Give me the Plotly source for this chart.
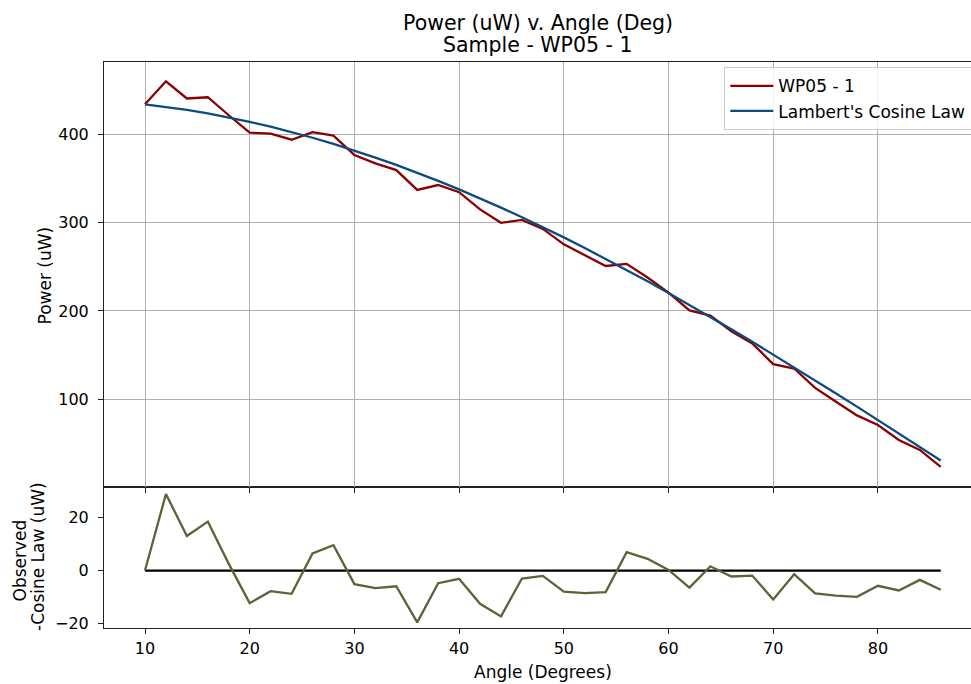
import plotly.graph_objects as go

angles = [10, 12, 14, 16, 18, 20, 22, 24, 26, 28, 30, 32, 34, 36, 38, 40, 42, 44, 46, 48,
          50, 52, 54, 56, 58, 60, 62, 64, 66, 68, 70, 72, 74, 76, 78, 80, 82, 84, 86]

observed = [434.0, 460.0, 440.6, 442.0, 421.6, 401.9, 400.9, 393.9, 402.5, 398.6,
            376.6, 367.1, 359.5, 337.0, 342.6, 334.5, 315.0, 299.8, 303.1, 292.9,
            275.4, 262.8, 250.9, 253.3, 237.9, 220.7, 200.5, 194.8, 177.0, 163.2,
            139.8, 134.8, 112.9, 97.2, 81.7, 70.8, 53.8, 42.6, 23.5]

cosine_law = [434.0, 431.1, 427.6, 423.6, 419.1, 414.1, 408.6, 402.6, 396.1, 389.1,
              381.7, 373.7, 365.4, 356.5, 347.3, 337.6, 327.5, 317.0, 306.1, 294.9,
              283.3, 271.3, 259.0, 246.4, 233.5, 220.4, 206.9, 193.2, 179.2, 165.1,
              150.7, 136.2, 121.5, 106.6, 91.6, 76.5, 61.3, 46.1, 30.7]

residual = [0.0, 28.75, 13.0, 18.4, 2.5, -12.25, -7.75, -8.75, 6.4, 9.5,
            -5.1, -6.6, -5.9, -19.5, -4.75, -3.1, -12.5, -17.25, -3.0, -2.0,
            -7.9, -8.5, -8.1, 6.9, 4.4, 0.25, -6.4, 1.6, -2.25, -1.9,
            -10.9, -1.4, -8.6, -9.4, -9.9, -5.75, -7.5, -3.5, -7.25]

baseline = [0.0] * len(angles)

top_yticks = [100, 200, 300, 400]
bottom_yticks = [-20, 0, 20]
x_ticks = [10, 20, 30, 40, 50, 60, 70, 80]

FONT = "DejaVu Sans"
RED = "#8b0000"
BLUE = "#0d4a80"
OLIVE = "#5a6438"

fig = go.Figure()
fig.add_trace(go.Scatter(x=angles, y=observed, mode="lines", name="WP05 - 1",
                         line=dict(color=RED, width=2.3), xaxis="x2", yaxis="y2"))
fig.add_trace(go.Scatter(x=angles, y=cosine_law, mode="lines", name="Lambert's Cosine Law",
                         line=dict(color=BLUE, width=2.3), xaxis="x2", yaxis="y2"))
fig.add_trace(go.Scatter(x=angles, y=baseline, mode="lines", showlegend=False,
                         line=dict(color="black", width=2.3), xaxis="x", yaxis="y"))
fig.add_trace(go.Scatter(x=angles, y=residual, mode="lines", showlegend=False,
                         line=dict(color=OLIVE, width=2.3), xaxis="x", yaxis="y"))

xr = [6.084, 88.89]
split = 141 / 566

axis_common = dict(showline=True, linecolor="#222222", linewidth=1.1, ticks="outside",
                   ticklen=5, tickwidth=1.1, tickcolor="#222222", zeroline=False,
                   tickfont=dict(family=FONT, size=16, color="black"))

fig.update_layout(
    width=971, height=684,
    margin=dict(l=104, r=0, t=62, b=56, autoexpand=False),
    paper_bgcolor="white", plot_bgcolor="white",
    font=dict(family=FONT, color="black"),
    xaxis=dict(domain=[0, 1], range=xr, anchor="y", tickvals=x_ticks, mirror=True,
               showgrid=False, ticklabelstandoff=1, **axis_common),
    yaxis=dict(domain=[0, split], range=[-21.6, 31.4], anchor="x", tickvals=bottom_yticks,
               showgrid=False, ticklabelstandoff=6, **axis_common),
    xaxis2=dict(domain=[0, 1], range=xr, anchor="y2", tickvals=x_ticks, mirror=True,
                showticklabels=False, showgrid=True, gridcolor="#b0b0b0", gridwidth=1.3,
                **axis_common),
    yaxis2=dict(domain=[split, 1], range=[0.6, 481.9], anchor="x2", tickvals=top_yticks,
                showgrid=True, gridcolor="#b0b0b0", gridwidth=1.3, ticklabelstandoff=6,
                **axis_common),
    legend=dict(x=(724 - 104) / 867, y=(628 - 67) / 566, xanchor="left", yanchor="top",
                bgcolor="rgba(255,255,255,0.8)", bordercolor="#cccccc", borderwidth=1.3,
                font=dict(family=FONT, size=17, color="black"), tracegroupgap=0,
                itemwidth=43),
    showlegend=True,
)

annots = [
    dict(text="Power (uW) v. Angle (Deg)", x=0.5, y=(628 - 23) / 566, font=dict(size=20.5)),
    dict(text="Sample - WP05 - 1", x=0.5, y=(628 - 45) / 566, font=dict(size=20.5)),
    dict(text="Angle (Degrees)", x=(542.5 - 104) / 867, y=(628 - 672) / 566, font=dict(size=17)),
    dict(text="Power (uW)", x=(44.5 - 104) / 867, y=(628 - 275) / 566, textangle=-90,
         font=dict(size=17)),
    dict(text="Observed", x=(19.5 - 104) / 867, y=(628 - 561) / 566, textangle=-90,
         font=dict(size=17)),
    dict(text="-Cosine Law (uW)", x=(38 - 104) / 867, y=(628 - 557) / 566, textangle=-90,
         font=dict(size=17)),
]
for a in annots:
    a.update(xref="paper", yref="paper", showarrow=False, xanchor="center", yanchor="middle")
    a["font"].update(family=FONT, color="black")
    fig.add_annotation(**a)

fig.write_html("out.html", config={"displayModeBar": False},
               post_script="document.body.style.margin='0';document.body.style.overflow='hidden';")
